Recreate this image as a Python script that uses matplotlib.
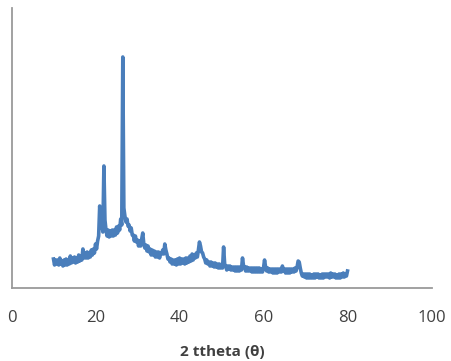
import numpy as np
import matplotlib
matplotlib.use("Agg")
import matplotlib.pyplot as plt

# 2-theta positions (degrees), 0.25 step from 10 to 80
two_theta = np.arange(10.0, 80.001, 0.25)

# Intensity (arbitrary units); 4 readings per degree
intensity = [
    29, 23, 28, 24,   # 10
    28, 23, 30, 24,   # 11
    27, 22, 28, 23,   # 12
    29, 23, 28, 24,   # 13
    32, 25, 30, 26,   # 14
    31, 25, 30, 26,   # 15
    33, 27, 32, 28,   # 16
    39, 30, 35, 30,   # 17
    36, 30, 35, 31,   # 18
    38, 33, 39, 35,   # 19
    44, 39, 47, 52,   # 20
    82, 60, 66, 56,   # 21
    122, 68, 58, 52,  # 22
    58, 51, 57, 52,   # 23
    58, 52, 58, 53,   # 24
    61, 55, 62, 58,   # 25
    69, 63, 231, 80,  # 26
    72, 66, 69, 62,   # 27
    63, 57, 60, 53,   # 28
    53, 47, 52, 46,   # 29
    48, 42, 47, 42,   # 30
    49, 55, 44, 40,   # 31
    43, 37, 42, 36,   # 32
    39, 33, 38, 33,   # 33
    37, 31, 36, 31,   # 34
    36, 30, 35, 34,   # 35
    38, 34, 44, 38,   # 36
    34, 29, 30, 26,   # 37
    29, 24, 28, 24,   # 38
    28, 23, 29, 24,   # 39
    30, 24, 29, 25,   # 40
    29, 24, 30, 25,   # 41
    30, 26, 32, 27,   # 42
    34, 28, 33, 30,   # 43
    35, 31, 38, 46,   # 44
    42, 36, 35, 31,   # 45
    29, 25, 28, 24,   # 46
    26, 22, 26, 22,   # 47
    25, 21, 25, 21,   # 48
    24, 20, 24, 20,   # 49
    23, 20, 41, 24,   # 50
    22, 18, 22, 19,   # 51
    22, 18, 21, 18,   # 52
    21, 17, 21, 17,   # 53
    21, 17, 21, 18,   # 54
    30, 22, 21, 17,   # 55
    21, 17, 20, 17,   # 56
    20, 16, 20, 16,   # 57
    20, 16, 20, 16,   # 58
    20, 16, 19, 16,   # 59
    20, 28, 21, 17,   # 60
    20, 16, 19, 16,   # 61
    19, 15, 19, 15,   # 62
    19, 15, 19, 16,   # 63
    19, 16, 22, 17,   # 64
    19, 15, 19, 15,   # 65
    19, 15, 19, 16,   # 66
    19, 16, 20, 17,   # 67
    21, 27, 26, 20,   # 68
    15, 12, 14, 11,   # 69
    14, 10, 14, 10,   # 70
    14, 10, 13, 10,   # 71
    14, 10, 14, 11,   # 72
    14, 10, 13, 10,   # 73
    14, 10, 14, 11,   # 74
    14, 11, 14, 10,   # 75
    15, 11, 14, 11,   # 76
    14, 10, 13, 10,   # 77
    14, 10, 14, 11,   # 78
    15, 11, 14, 12,   # 79
    17,               # 80
]

x_ticks = [0, 20, 40, 60, 80, 100]
x_label = "2 ttheta (θ)"

W, H = 451, 361
fig = plt.figure(figsize=(W / 100, H / 100), dpi=100)
left_px, right_px, bottom_px, top_px = 11.5, 431.5, 288, 8
ax = fig.add_axes([left_px / W, 1 - bottom_px / H,
                   (right_px - left_px) / W, (bottom_px - top_px) / H])

ax.plot(two_theta, intensity, color="#4A7EBB", linewidth=2.6,
        solid_joinstyle="round")

ax.set_xlim(0, 100)
ax.set_ylim(0, 280)
ax.set_xticks(x_ticks)
ax.set_xticklabels([str(t) for t in x_ticks], fontsize=12,
                   color="#404040", family="Open Sans")
ax.set_yticks([])
ax.tick_params(axis="x", length=0, pad=16)

for s in ["top", "right"]:
    ax.spines[s].set_visible(False)
for s in ["left", "bottom"]:
    ax.spines[s].set_color("#9A9A9A")
    ax.spines[s].set_linewidth(1.3)

fig.text(222 / W, 1 - 352 / H, x_label, ha="center", va="center",
         fontsize=11, fontweight="bold", color="#404040", family="Open Sans")

fig.savefig("out.png", dpi=100)
